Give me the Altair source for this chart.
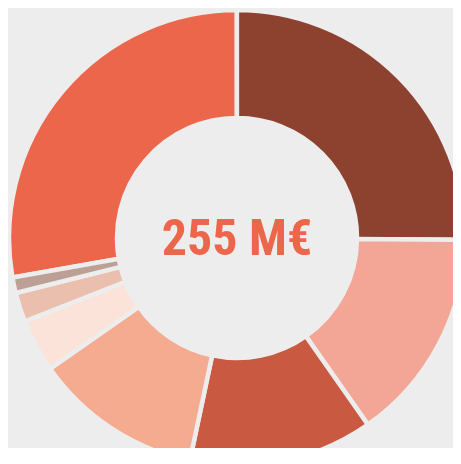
import altair as alt
import pandas as pd

# Slices (M€), ordered largest first
categories = ["Poste 1", "Poste 2", "Poste 3", "Poste 4", "Poste 5", "Poste 6", "Poste 7", "Poste 8"]
values = [70.8, 64.1, 38.6, 33.3, 30.5, 9.6, 5.3, 2.8]
colors = ["#EC664B", "#8D4230", "#F3A695", "#C95940", "#F5AB8F", "#FCE3DA", "#EABFAE", "#BC9F95"]

df = pd.DataFrame({"categorie": categories, "valeur": values})

base = alt.Chart(df)

donut = base.mark_arc(
    innerRadius=120, outerRadius=228, stroke="#EDEDED", strokeWidth=4.5
).encode(
    theta=alt.Theta("valeur:Q", stack=True,
                    scale=alt.Scale(range=[-1.745, 4.538])),
    color=alt.Color("categorie:N", legend=None,
                    scale=alt.Scale(domain=categories, range=colors)),
    order=alt.Order("valeur:Q", sort="descending"),
)

center = base.transform_aggregate(
    total="sum(valeur)"
).transform_calculate(
    label="format(datum.total, '.0f') + ' M€'"
).mark_text(
    font="Roboto Condensed, DejaVu Sans Condensed",
    fontWeight="bold", fontSize=50, color="#EC664B",
    align="center", baseline="middle", dy=2
).encode(text="label:N")

chart = alt.layer(donut, center).properties(
    width=432, height=420,
    padding={"left": 13, "top": 20, "right": 0, "bottom": 0},
    autosize=alt.AutoSizeParams(type="none"),
    background="#EDEDED",
).configure_view(stroke=None)

chart.save("out.html", embed_options={"renderer": "svg", "actions": False})
